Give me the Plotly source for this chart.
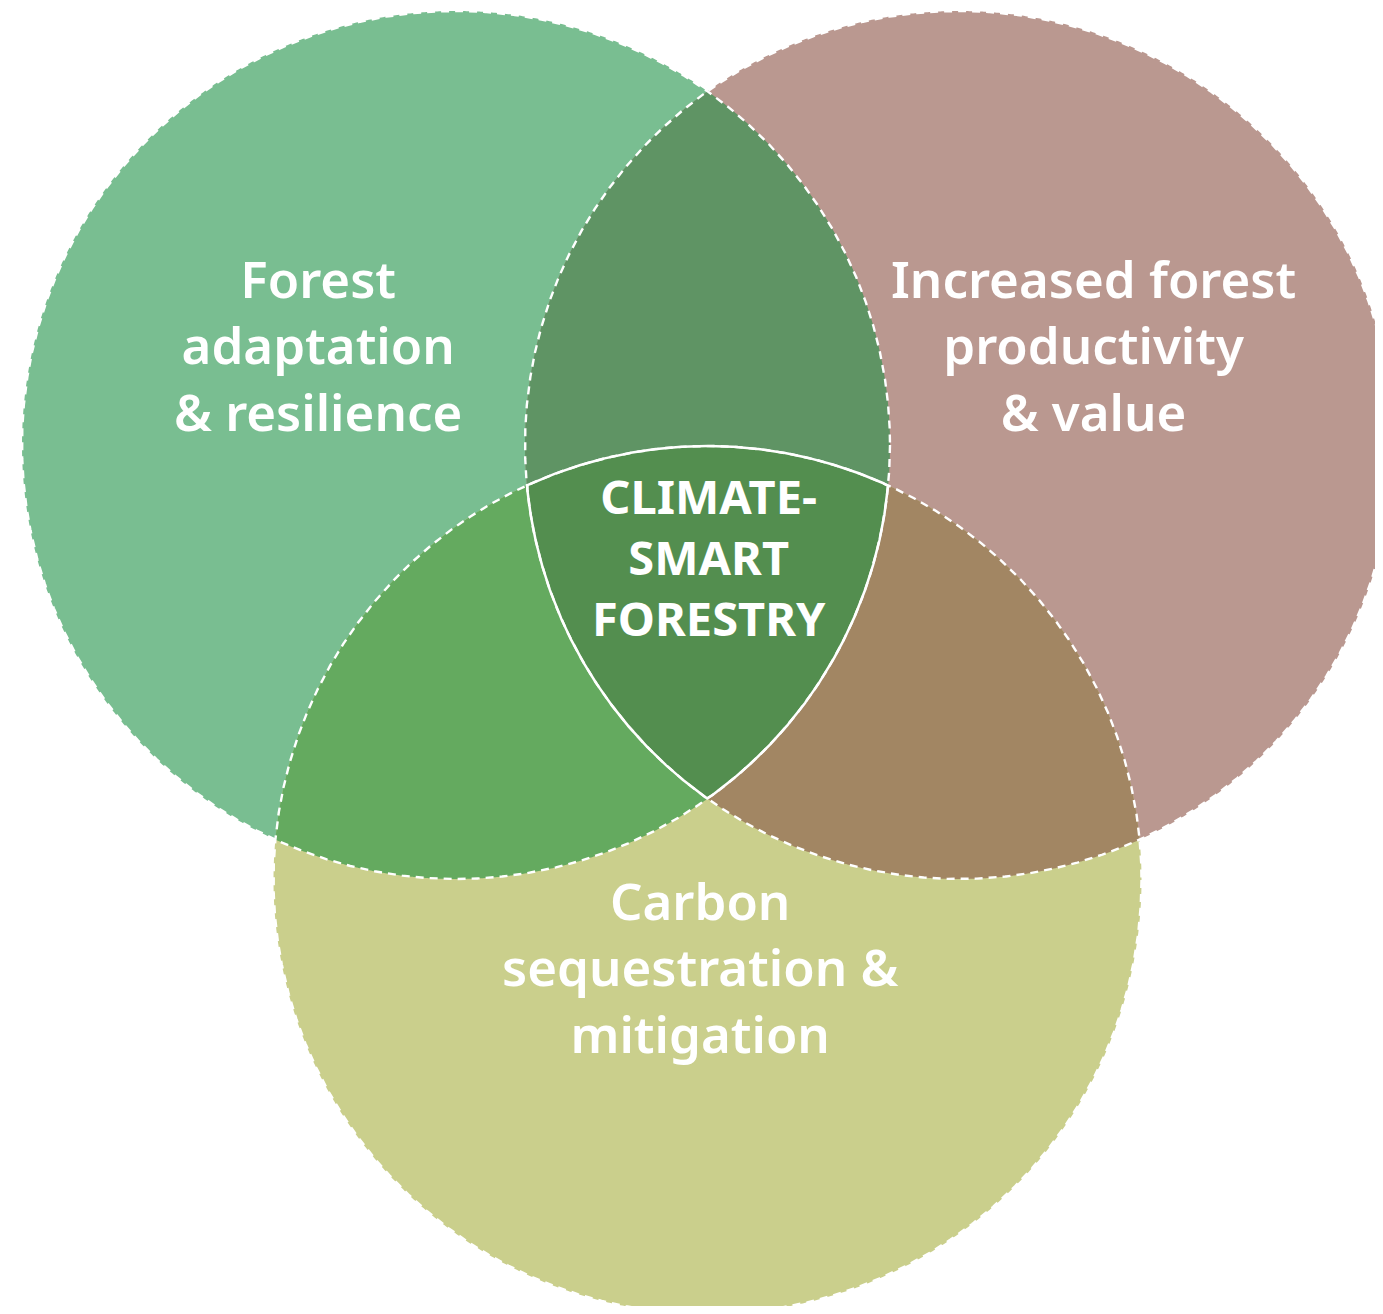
import numpy as np
import plotly.graph_objects as go

# ---- data ----
set_names = ["Forest adaptation & resilience",
             "Increased forest productivity & value",
             "Carbon sequestration & mitigation"]
label_lines = [["Forest", "adaptation", "& resilience"],
               ["Increased forest", "productivity", "& value"],
               ["Carbon", "sequestration &", "mitigation"]]
center_lines = ["CLIMATE-", "SMART", "FORESTRY"]

# ---- layout / geometry ----
W, H = 1383, 1314
OFF = 8  # page body margin
R = 434
centers = [(456.0, 445.0), (959.0, 445.0), (707.5, 880.0)]
circle_colors = ["#79BE91", "#BA9890", "#CACF8C"]
pair_colors = {(0, 1): "#5F9464", (0, 2): "#64AA5F", (1, 2): "#A28663"}
center_color = "#538E4F"


def circle_pts(i, n=1500):
    t = np.linspace(0, 2 * np.pi, n)
    cx, cy = centers[i]
    return cx + R * np.cos(t), cy + R * np.sin(t)


def region(idx):
    xs, ys = [], []
    for i in idx:
        px, py = circle_pts(i, 4000)
        m = np.ones_like(px, dtype=bool)
        for j in idx:
            if j == i:
                continue
            cx, cy = centers[j]
            m &= np.hypot(px - cx, py - cy) <= R + 0.3
        xs.append(px[m]); ys.append(py[m])
    xs = np.concatenate(xs); ys = np.concatenate(ys)
    mx, my = xs.mean(), ys.mean()
    order = np.argsort(np.arctan2(ys - my, xs - mx))
    xs, ys = xs[order], ys[order]
    return np.append(xs, xs[0]), np.append(ys, ys[0])


fig = go.Figure()

for i in range(3):
    x, y = circle_pts(i)
    fig.add_trace(go.Scatter(x=x, y=y, fill="toself", fillcolor=circle_colors[i],
                             mode="none", hoverinfo="skip", name=set_names[i]))
for (a, b), col in pair_colors.items():
    x, y = region([a, b])
    fig.add_trace(go.Scatter(x=x, y=y, fill="toself", fillcolor=col,
                             mode="none", hoverinfo="skip"))
cx_, cy_ = region([0, 1, 2])
fig.add_trace(go.Scatter(x=cx_, y=cy_, fill="toself", fillcolor=center_color,
                         mode="none", hoverinfo="skip"))
for i in range(3):
    x, y = circle_pts(i, 3000)
    fig.add_trace(go.Scatter(x=x, y=y, mode="lines",
                             line=dict(color="white", width=2.4, dash="8px,6px"),
                             hoverinfo="skip"))
fig.add_trace(go.Scatter(x=cx_, y=cy_, mode="lines",
                         line=dict(color="white", width=2.5), hoverinfo="skip"))

label_pos = [(318, 344), (1093, 344), (700, 966)]
font = "Noto Sans"
for (lx, ly), lines in zip(label_pos, label_lines):
    fig.add_annotation(x=lx, y=ly, text="<br>".join(lines), showarrow=False,
                       xanchor="center", yanchor="middle", align="center",
                       font=dict(family=font, size=51, color="white", weight=600))
fig.add_annotation(x=709, y=557, text="<br>".join(center_lines), showarrow=False,
                   xanchor="center", yanchor="middle", align="center",
                   font=dict(family=font, size=47, color="white", weight=700))

fig.update_layout(width=W - OFF, height=H - 2 * OFF, margin=dict(l=0, r=0, t=0, b=0),
                  paper_bgcolor="white", plot_bgcolor="white", showlegend=False,
                  xaxis=dict(range=[OFF, W], visible=False, fixedrange=True),
                  yaxis=dict(range=[H - OFF, OFF], visible=False, fixedrange=True))
fig.write_html("out.html")
